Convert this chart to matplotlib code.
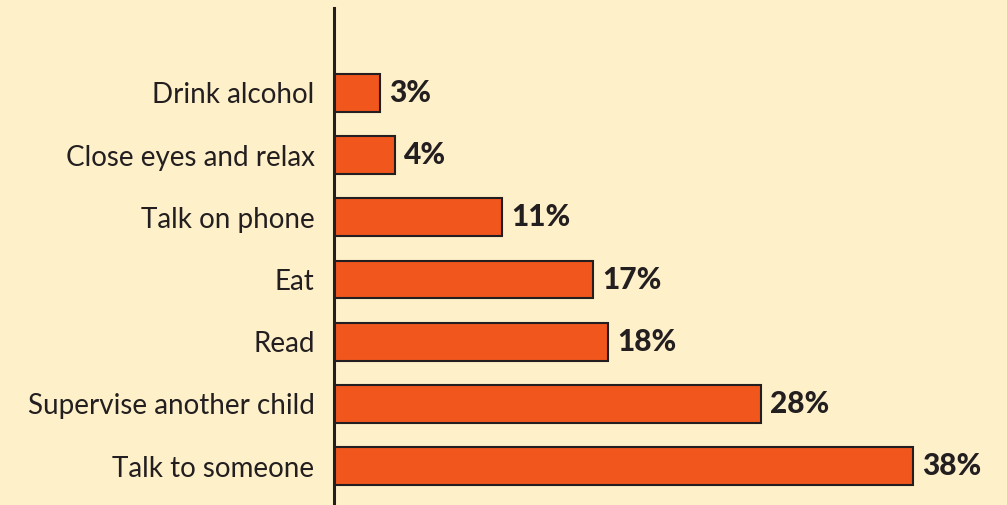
import matplotlib.pyplot as plt

activities = ['Drink alcohol', 'Close eyes and relax', 'Talk on phone', 'Eat',
              'Read', 'Supervise another child', 'Talk to someone']
percent = [3, 4, 11, 17, 18, 28, 38]

bg = '#FEF0C9'
plt.rcParams['font.family'] = ['Lato', 'DejaVu Sans']

fig = plt.figure(figsize=(10.07, 5.05), dpi=100, facecolor=bg)
ax = fig.add_axes([334 / 1007, 0, 673 / 1007, 497 / 505])
ax.set_facecolor(bg)

y = list(range(len(activities)))
ax.barh(y, percent, height=0.61, color='#F1561D', edgecolor='#231F20', linewidth=1.5, zorder=2)

for yi, v in zip(y, percent):
    ax.text(v + 0.6, yi, f'{v}%', va='center', ha='left', fontsize=21.5,
            fontweight='black', color='#231F20')

ax.set_xlim(0, 673 / 15.24)
ax.set_ylim(6.627, -1.367)
ax.set_yticks(y)
ax.set_yticklabels(activities, fontsize=20, color='#231F20')
ax.tick_params(axis='y', length=0, pad=14)
ax.set_xticks([])
for s in ['top', 'right', 'bottom']:
    ax.spines[s].set_visible(False)
ax.spines['left'].set_linewidth(2.2)
ax.spines['left'].set_color('#231F20')

fig.savefig('out.png', dpi=100, facecolor=bg)
